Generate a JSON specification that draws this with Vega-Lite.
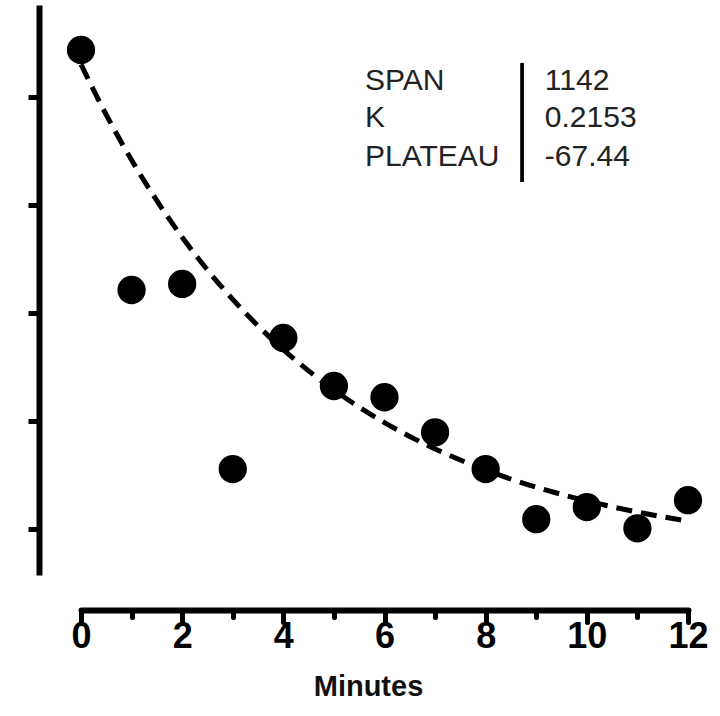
{
  "$schema": "https://vega.github.io/schema/vega-lite/v6.json",
  "width": 607,
  "height": 570,
  "autosize": "none",
  "padding": {"left": 81, "top": 5, "right": 32, "bottom": 141},
  "background": "white",
  "config": {
    "view": {"stroke": null},
    "axis": {"grid": false}
  },
  "datasets": {
    "observed": [
      {"minutes": 0, "value": 1108},
      {"minutes": 1, "value": 553},
      {"minutes": 2, "value": 567},
      {"minutes": 3, "value": 139},
      {"minutes": 4, "value": 442},
      {"minutes": 5, "value": 331},
      {"minutes": 6, "value": 305},
      {"minutes": 7, "value": 224},
      {"minutes": 8, "value": 139},
      {"minutes": 9, "value": 23},
      {"minutes": 10, "value": 51},
      {"minutes": 11, "value": 2},
      {"minutes": 12, "value": 67}
    ],
    "fit": [
      {"minutes": 0, "value": 1074.6},
      {"minutes": 0.5, "value": 958.0},
      {"minutes": 1, "value": 853.4},
      {"minutes": 1.5, "value": 759.4},
      {"minutes": 2, "value": 675.0},
      {"minutes": 2.5, "value": 599.3},
      {"minutes": 3, "value": 531.2},
      {"minutes": 3.5, "value": 470.1},
      {"minutes": 4, "value": 415.3},
      {"minutes": 4.5, "value": 366.0},
      {"minutes": 5, "value": 321.8},
      {"minutes": 5.5, "value": 282.1},
      {"minutes": 6, "value": 246.4},
      {"minutes": 6.5, "value": 214.4},
      {"minutes": 7, "value": 185.6},
      {"minutes": 7.5, "value": 159.8},
      {"minutes": 8, "value": 136.6},
      {"minutes": 8.5, "value": 115.8},
      {"minutes": 9, "value": 97.1},
      {"minutes": 9.5, "value": 80.3},
      {"minutes": 10, "value": 65.2},
      {"minutes": 10.5, "value": 51.7},
      {"minutes": 11, "value": 39.5},
      {"minutes": 11.5, "value": 28.6},
      {"minutes": 12, "value": 18.8}
    ],
    "params": [
      {"param": "SPAN", "estimate": "1142"},
      {"param": "K", "estimate": "0.2153"},
      {"param": "PLATEAU", "estimate": "-67.44"}
    ]
  },
  "layer": [
    {
      "data": {"name": "fit"},
      "mark": {"type": "line", "color": "black", "strokeWidth": 5, "strokeDash": [16, 9], "interpolate": "monotone"},
      "encoding": {
        "x": {
          "field": "minutes", "type": "quantitative",
          "scale": {"domain": [0, 12], "nice": false, "zero": false},
          "axis": {
            "values": [0, 1, 2, 3, 4, 5, 6, 7, 8, 9, 10, 11, 12],
            "labelExpr": "datum.value % 2 ? '' : datum.label",
            "labelOverlap": false,
            "labelFlush": false,
            "offset": 35,
            "domainColor": "black", "domainWidth": 6, "domainCap": "round",
            "tickColor": "black", "tickWidth": 5, "tickCap": "round",
            "tickSize": {"condition": {"test": "datum.value % 2", "value": 7}, "value": 12},
            "labelFont": "Liberation Sans", "labelFontWeight": "bold", "labelFontSize": 36,
            "labelColor": "black", "labelPadding": -3,
            "title": "Minutes",
            "titleX": 287,
            "titleFont": "Liberation Sans", "titleFontWeight": "bold", "titleFontSize": 29,
            "titleColor": "#111", "titlePadding": 18
          }
        },
        "y": {
          "field": "value", "type": "quantitative",
          "scale": {"domain": [-106, 1212], "nice": false, "zero": false},
          "axis": {
            "values": [0, 250, 500, 750, 1000],
            "labels": false,
            "title": null,
            "offset": 42,
            "domainColor": "black", "domainWidth": 6,
            "tickColor": "black", "tickWidth": 5, "tickSize": 11
          }
        }
      }
    },
    {
      "data": {"name": "observed"},
      "mark": {"type": "circle", "color": "black", "opacity": 1, "size": 800},
      "encoding": {
        "x": {"field": "minutes", "type": "quantitative"},
        "y": {"field": "value", "type": "quantitative"}
      }
    },
    {
      "data": {"name": "params"},
      "mark": {"type": "rule", "color": "black", "strokeWidth": 3},
      "encoding": {
        "x": {"datum": 8.72, "type": "quantitative"},
        "y": {"datum": 1078, "type": "quantitative"},
        "y2": {"datum": 803}
      }
    },
    {
      "data": {"name": "params"},
      "transform": [{"filter": "datum.param === 'SPAN'"}],
      "encoding": {"y": {"datum": 1036, "type": "quantitative"}},
      "layer": [
        {
          "mark": {"type": "text", "align": "left", "baseline": "middle", "font": "Liberation Sans", "fontSize": 30, "color": "#222"},
          "encoding": {"x": {"datum": 5.615, "type": "quantitative"}, "text": {"field": "param"}}
        },
        {
          "mark": {"type": "text", "align": "left", "baseline": "middle", "font": "Liberation Sans", "fontSize": 30, "color": "#222"},
          "encoding": {"x": {"datum": 9.17, "type": "quantitative"}, "text": {"field": "estimate"}}
        }
      ]
    },
    {
      "data": {"name": "params"},
      "transform": [{"filter": "datum.param === 'K'"}],
      "encoding": {"y": {"datum": 951, "type": "quantitative"}},
      "layer": [
        {
          "mark": {"type": "text", "align": "left", "baseline": "middle", "font": "Liberation Sans", "fontSize": 30, "color": "#222"},
          "encoding": {"x": {"datum": 5.615, "type": "quantitative"}, "text": {"field": "param"}}
        },
        {
          "mark": {"type": "text", "align": "left", "baseline": "middle", "font": "Liberation Sans", "fontSize": 30, "color": "#222"},
          "encoding": {"x": {"datum": 9.17, "type": "quantitative"}, "text": {"field": "estimate"}}
        }
      ]
    },
    {
      "data": {"name": "params"},
      "transform": [{"filter": "datum.param === 'PLATEAU'"}],
      "encoding": {"y": {"datum": 860, "type": "quantitative"}},
      "layer": [
        {
          "mark": {"type": "text", "align": "left", "baseline": "middle", "font": "Liberation Sans", "fontSize": 30, "color": "#222"},
          "encoding": {"x": {"datum": 5.615, "type": "quantitative"}, "text": {"field": "param"}}
        },
        {
          "mark": {"type": "text", "align": "left", "baseline": "middle", "font": "Liberation Sans", "fontSize": 30, "color": "#222"},
          "encoding": {"x": {"datum": 9.17, "type": "quantitative"}, "text": {"field": "estimate"}}
        }
      ]
    }
  ]
}
